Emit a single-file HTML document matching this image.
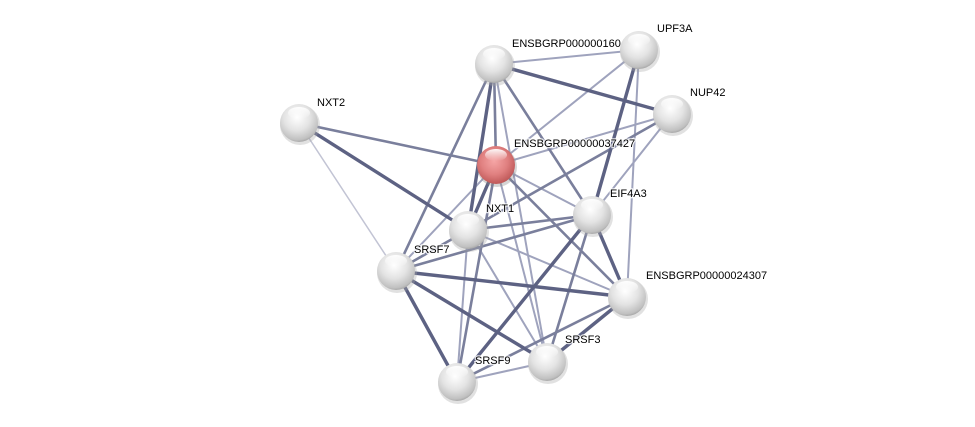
<!DOCTYPE html>
<html><head><meta charset="utf-8"><style>
html,body{margin:0;padding:0;background:#fff;}
svg{display:block;}
text{font-family:"Liberation Sans",sans-serif;font-size:11px;fill:#000;paint-order:stroke;stroke:#fff;stroke-width:2.5px;stroke-opacity:.8;}
</style></head><body>
<svg width="975" height="427" viewBox="0 0 975 427">
<defs>
<radialGradient id="g" cx="0.45" cy="0.35" r="0.7">
<stop offset="0" stop-color="#ffffff"/><stop offset="0.5" stop-color="#e3e3e3"/><stop offset="0.85" stop-color="#c0c0c0"/><stop offset="1" stop-color="#959595"/>
</radialGradient>
<radialGradient id="r" cx="0.45" cy="0.4" r="0.7">
<stop offset="0" stop-color="#f5a5a5"/><stop offset="0.5" stop-color="#e08080"/><stop offset="0.85" stop-color="#c05a5a"/><stop offset="1" stop-color="#903c3c"/>
</radialGradient>
<linearGradient id="hl" x1="0" y1="0" x2="0" y2="1"><stop offset="0" stop-color="#fff" stop-opacity=".95"/><stop offset="1" stop-color="#fff" stop-opacity="0"/></linearGradient>
</defs>
<g stroke-linecap="round">
<g stroke="#9fa3bd" stroke-width="2">
<line x1="494" y1="64" x2="639" y2="50"/>
<line x1="639" y1="50" x2="496" y2="165"/>
<line x1="639" y1="50" x2="627" y2="297"/>
<line x1="672" y1="114" x2="496" y2="165"/>
<line x1="672" y1="114" x2="592" y2="215"/>
<line x1="494" y1="64" x2="547" y2="362"/>
<line x1="468" y1="230" x2="547" y2="362"/>
<line x1="496" y1="165" x2="547" y2="362"/>
<line x1="468" y1="230" x2="457" y2="382"/>
<line x1="468" y1="230" x2="627" y2="297"/>
<line x1="496" y1="165" x2="592" y2="215"/>
<line x1="496" y1="165" x2="396" y2="271"/>
<line x1="547" y1="362" x2="457" y2="382"/>
</g>
<line x1="299" y1="123" x2="396" y2="271" stroke="#c2c4d4" stroke-width="1.5"/>
<g stroke="#7a7f9c" stroke-width="2.6">
<line x1="494" y1="64" x2="396" y2="271"/>
<line x1="494" y1="64" x2="496" y2="165"/>
<line x1="494" y1="64" x2="592" y2="215"/>
<line x1="299" y1="123" x2="496" y2="165"/>
<line x1="672" y1="114" x2="468" y2="230"/>
<line x1="468" y1="230" x2="592" y2="215"/>
<line x1="396" y1="271" x2="592" y2="215"/>
<line x1="396" y1="271" x2="468" y2="230"/>
<line x1="496" y1="165" x2="627" y2="297"/>
<line x1="496" y1="165" x2="457" y2="382"/>
<line x1="592" y1="215" x2="547" y2="362"/>
<line x1="627" y1="297" x2="457" y2="382"/>
</g>
<g stroke="#5d6283" stroke-width="3.4">
<line x1="494" y1="64" x2="672" y2="114"/>
<line x1="494" y1="64" x2="468" y2="230"/>
<line x1="639" y1="50" x2="592" y2="215"/>
<line x1="299" y1="123" x2="468" y2="230"/>
<line x1="496" y1="165" x2="468" y2="230"/>
<line x1="396" y1="271" x2="627" y2="297"/>
<line x1="396" y1="271" x2="547" y2="362"/>
<line x1="396" y1="271" x2="457" y2="382"/>
<line x1="592" y1="215" x2="627" y2="297"/>
<line x1="592" y1="215" x2="457" y2="382"/>
<line x1="627" y1="297" x2="547" y2="362"/>
</g>
</g>
<g>
<text x="512" y="47">ENSBGRP000000160</text>
<text x="657" y="32">UPF3A</text>
<text x="690" y="96">NUP42</text>
<text x="317" y="106">NXT2</text>
<text x="514" y="147">ENSBGRP00000037427</text>
<text x="610" y="197">EIF4A3</text>
<text x="486" y="212">NXT1</text>
<text x="414" y="253">SRSF7</text>
<text x="646" y="279">ENSBGRP00000024307</text>
<text x="565" y="343">SRSF3</text>
<text x="475" y="364">SRSF9</text>
</g>
<g>
<g transform="translate(494,64)"><circle r="20" fill="#aaa" opacity=".35" cx="1" cy="2"/><circle r="19" fill="url(#g)"/><ellipse cx="0" cy="-10" rx="11" ry="6" fill="url(#hl)"/></g>
<g transform="translate(639,50)"><circle r="20" fill="#aaa" opacity=".35" cx="1" cy="2"/><circle r="19" fill="url(#g)"/><ellipse cx="0" cy="-10" rx="11" ry="6" fill="url(#hl)"/></g>
<g transform="translate(672,114)"><circle r="20" fill="#aaa" opacity=".35" cx="1" cy="2"/><circle r="19" fill="url(#g)"/><ellipse cx="0" cy="-10" rx="11" ry="6" fill="url(#hl)"/></g>
<g transform="translate(299,123)"><circle r="20" fill="#aaa" opacity=".35" cx="1" cy="2"/><circle r="19" fill="url(#g)"/><ellipse cx="0" cy="-10" rx="11" ry="6" fill="url(#hl)"/></g>
<g transform="translate(496,165)"><circle r="20" fill="#888" opacity=".35" cx="1" cy="2"/><circle r="19" fill="url(#r)"/><ellipse cx="0" cy="-10" rx="11" ry="6" fill="url(#hl)"/></g>
<g transform="translate(592,215)"><circle r="20" fill="#aaa" opacity=".35" cx="1" cy="2"/><circle r="19" fill="url(#g)"/><ellipse cx="0" cy="-10" rx="11" ry="6" fill="url(#hl)"/></g>
<g transform="translate(468,230)"><circle r="20" fill="#aaa" opacity=".35" cx="1" cy="2"/><circle r="19" fill="url(#g)"/><ellipse cx="0" cy="-10" rx="11" ry="6" fill="url(#hl)"/></g>
<g transform="translate(396,271)"><circle r="20" fill="#aaa" opacity=".35" cx="1" cy="2"/><circle r="19" fill="url(#g)"/><ellipse cx="0" cy="-10" rx="11" ry="6" fill="url(#hl)"/></g>
<g transform="translate(627,297)"><circle r="20" fill="#aaa" opacity=".35" cx="1" cy="2"/><circle r="19" fill="url(#g)"/><ellipse cx="0" cy="-10" rx="11" ry="6" fill="url(#hl)"/></g>
<g transform="translate(547,362)"><circle r="20" fill="#aaa" opacity=".35" cx="1" cy="2"/><circle r="19" fill="url(#g)"/><ellipse cx="0" cy="-10" rx="11" ry="6" fill="url(#hl)"/></g>
<g transform="translate(457,382)"><circle r="20" fill="#aaa" opacity=".35" cx="1" cy="2"/><circle r="19" fill="url(#g)"/><ellipse cx="0" cy="-10" rx="11" ry="6" fill="url(#hl)"/></g>
</g>
</svg>
</body></html>
